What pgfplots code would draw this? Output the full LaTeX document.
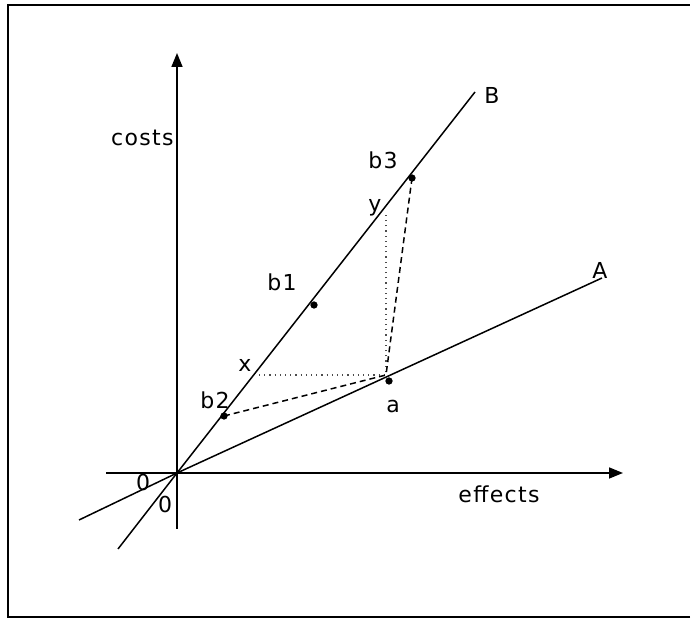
\documentclass[border=0pt]{standalone}
\usepackage{pgfplots}
\pgfplotsset{compat=1.18}
\usepackage{fontspec}
\setmainfont{DejaVu Sans}[LetterSpace=6]
\usetikzlibrary{arrows.meta}
\begin{document}
\begin{tikzpicture}
\begin{axis}[
    scale only axis,
    width=345.5pt, height=309.5pt,
    xmin=-177, xmax=514, ymin=-146, ymax=473,
    axis lines=none,
    clip=false,
    font=\fontsize{11}{13}\selectfont,
]
% bounding box and frame
\path (rel axis cs:0,0) rectangle (rel axis cs:1,1);
\draw[line width=1pt] (axis cs:513,-144) -- (axis cs:-169,-144) -- (axis cs:-169,468) -- (axis cs:513,468);

% axes
\addplot[black, line width=0.8pt, -{Triangle[length=7pt,width=5.5pt]}] coordinates {(-71,0) (446,0)};
\addplot[black, line width=0.8pt, -{Triangle[length=7pt,width=5.5pt]}] coordinates {(0,-56) (0,420)};

% line B and line A
\addplot[black, line width=0.75pt] coordinates {(-59,-76) (0,0) (298,381)};
\addplot[black, line width=0.75pt] coordinates {(-98,-47) (0,0) (425,195)};

% dotted guides
\addplot[black!70, dotted, line width=0.6pt] coordinates {(82,98) (209,98) (209,261)};

% dashed connections
\addplot[black, line width=0.75pt, dash pattern=on 3pt off 2pt] coordinates {(47,57) (209,98) (235,295)};

% points
\addplot[only marks, mark=*, mark size=1.6pt, black] coordinates {(235,295) (137,168) (47,57) (212,92)};

% labels
\node[anchor=east, inner sep=1pt] at (axis cs:-1,335) {costs};
\node at (axis cs:322,-21) {effects};
\node at (axis cs:315,378) {B};
\node at (axis cs:423,203) {A};
\node at (axis cs:206,313) {b3};
\node at (axis cs:198,265) {y};
\node at (axis cs:105,191) {b1};
\node at (axis cs:68,108) {x};
\node at (axis cs:38,73) {b2};
\node at (axis cs:216,66) {a};
\node at (axis cs:-34,-10) {0};
\node at (axis cs:-12,-32) {0};
\end{axis}
\end{tikzpicture}
\end{document}
